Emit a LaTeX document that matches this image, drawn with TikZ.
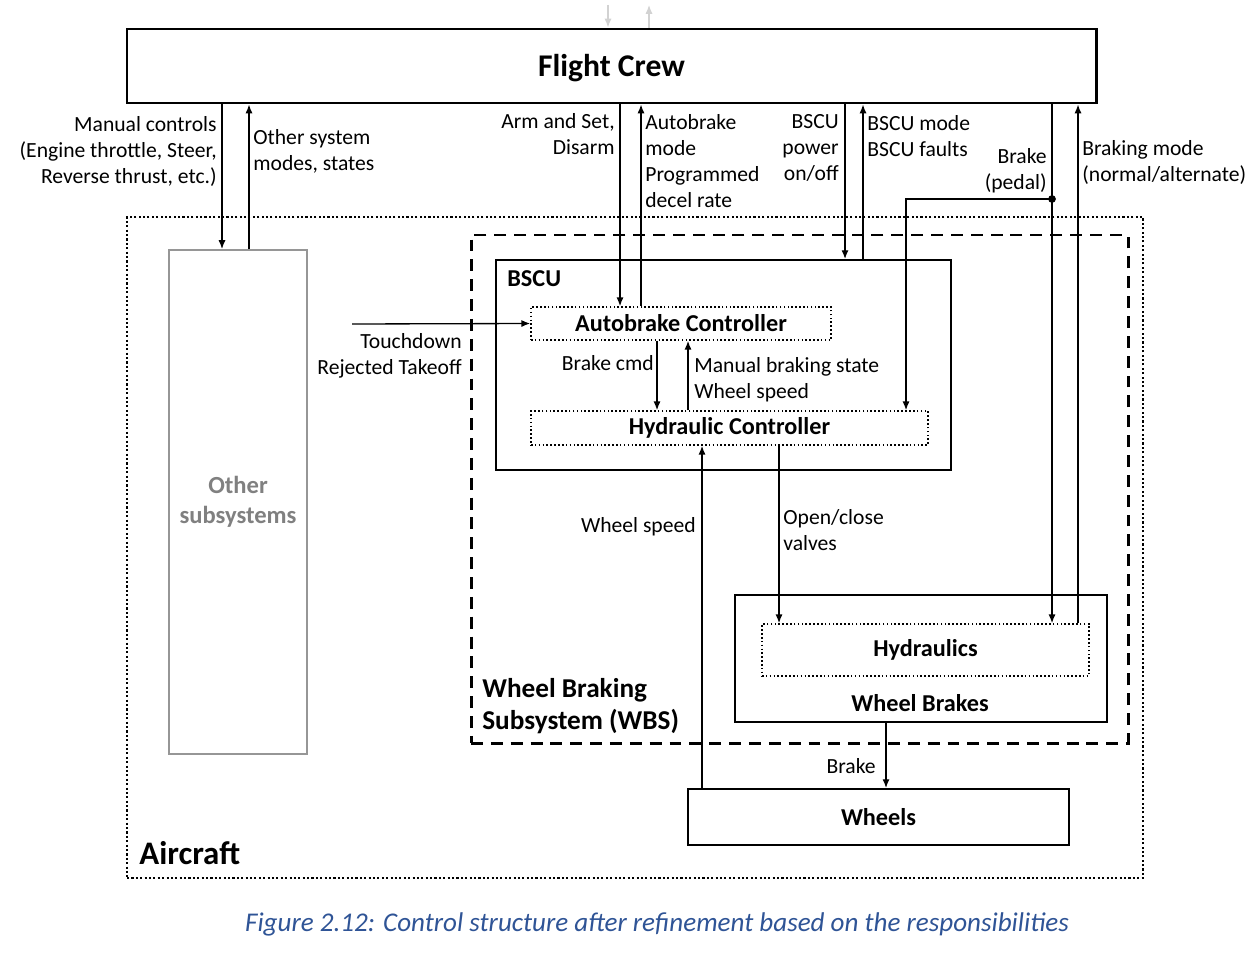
\documentclass[tikz,border=0pt]{standalone}
\usepackage{fontspec}
\setmainfont{Carlito}
\usepackage{xcolor}
\usetikzlibrary{arrows.meta,positioning,calc}
\definecolor{capblue}{RGB}{47,84,150}
\definecolor{boxgray}{RGB}{150,150,150}
\definecolor{txtgray}{RGB}{128,128,128}
\tikzset{
  box/.style={draw, line width=1.1pt, inner sep=0pt},
  dotbox/.style={draw, line width=0.9pt, dash pattern=on 0.9pt off 1.3pt, inner sep=0pt, font=\fontsize{13.8}{16}\selectfont\bfseries},
  arr/.style={line width=0.75pt, -{Latex[length=5pt,width=4pt]}},
  lbl/.style={inner sep=0pt, font=\fontsize{12.3}{14.8}\selectfont},
}
\begin{document}
\begin{tikzpicture}[x=0.02cm, y=-0.02cm]
  \useasboundingbox (0,0) rectangle (1256,956);
  % containers
  \node[draw, line width=1.4pt, dash pattern=on 1.2pt off 1.3pt, minimum width=1016*0.02cm, minimum height=661*0.02cm] (air) at (635,547.5) {};
  \node[draw, line width=1.7pt, dash pattern=on 6.8pt off 4.5pt, minimum width=657*0.02cm, minimum height=508*0.02cm] (wbs) at (799.5,489) {};
  \node[box, line width=1.7pt, minimum width=969*0.02cm, minimum height=74*0.02cm, text depth=1pt, font=\fontsize{18}{20}\selectfont\bfseries] (fc) at (611.5,66) {Flight Crew};
  \node[draw=boxgray, line width=1.1pt, minimum width=138*0.02cm, minimum height=504*0.02cm, align=center, text=txtgray, font=\fontsize{14}{17}\selectfont\bfseries] (oth) at (238,502) {Other\\subsystems};
  \node[box, minimum width=455*0.02cm, minimum height=210*0.02cm] (bscu) at (723.5,365) {};
  \node[dotbox, minimum width=300*0.02cm, minimum height=33*0.02cm] (abc) at (681,323.5) {Autobrake Controller};
  \node[dotbox, minimum width=397*0.02cm, minimum height=34*0.02cm] (hc) at (729.5,428) {Hydraulic Controller};
  \node[box, minimum width=372*0.02cm, minimum height=127*0.02cm] (wb) at (921,658.5) {};
  \node[dotbox, minimum width=327*0.02cm, minimum height=52*0.02cm] (hyd) at (925.5,650) {Hydraulics};
  \node[box, minimum width=381*0.02cm, minimum height=56*0.02cm, font=\fontsize{13.8}{16}\selectfont\bfseries] (whl) at (878.5,817) {Wheels};

  % titles
  \node[anchor=west, inner sep=0pt, font=\fontsize{13.8}{15}\selectfont\bfseries] (bscut) at (507,279) {BSCU};
  \node[inner sep=0pt, font=\fontsize{13.8}{16}\selectfont\bfseries] (wbt) at (920,703) {Wheel Brakes};
  \node[anchor=north west, inner sep=0pt, align=left, font=\fontsize{15.5}{18.2}\selectfont\bfseries] (wbst) at (482,678) {Wheel Braking\\Subsystem (WBS)};
  \node[anchor=west, inner sep=0pt, font=\fontsize{18.7}{21}\selectfont\bfseries] (airt) at (139,853) {Aircraft};
  \node[inner sep=0pt, text=capblue, font=\fontsize{15.4}{17}\selectfont\itshape] (cap) at (657,924) {Figure 2.12: Control structure after refinement based on the responsibilities};

  % faint arrows above the crew
  \coordinate (fa) at (608,5);
  \coordinate (fb) at (649,5);
  \draw[gray!35, line width=0.7pt, -{Latex[length=5pt,width=4pt]}] (fa) -- (fc.north -| fa);
  \draw[gray!35, line width=0.7pt, -{Latex[length=5pt,width=4pt]}] (fc.north -| fb) -- (fb);

  % crew <-> aircraft
  \draw[arr] (fc.south -| 222,0) -- (oth.north -| 222,0);
  \draw[arr] (oth.north -| 249,0) -- (fc.south -| 249,0);
  \draw[arr] (fc.south -| 620,0) -- (abc.north -| 620,0);
  \draw[arr] (abc.north -| 641,0) -- (fc.south -| 641,0);
  \draw[arr] (fc.south -| 845,0) -- (bscu.north -| 845,0);
  \draw[arr] (bscu.north -| 863,0) -- (fc.south -| 863,0);
  \draw[arr] (fc.south -| 1052,0) -- (hyd.north -| 1052,0);
  \draw[arr] (hyd.north -| 1078,0) -- (fc.south -| 1078,0);
  \coordinate (pedal) at (1052,199);
  \fill (pedal) circle (2.2pt);
  \draw[arr] (pedal) -| (hc.north -| 906,0);

  % inside
  \coordinate (td) at (352,324);
  \draw[arr] (td) -- (abc.west);
  \draw[arr] (abc.south -| 657,0) -- (hc.north -| 657,0);
  \draw[arr] (hc.north -| 688,0) -- (abc.south -| 688,0);
  \draw[arr] (whl.north -| 702,0) -- (hc.south -| 702,0);
  \draw[arr] (hc.south -| 779,0) -- (hyd.north -| 779,0);
  \draw[arr] (wb.south -| 886,0) -- (whl.north -| 886,0);

  % labels
  \node[lbl, anchor=north east, align=right] (l1) at (217,116) {Manual controls\\(Engine throttle, Steer,\\Reverse thrust, etc.)};
  \node[lbl, anchor=north west, align=left] (l2) at (253,129) {Other system\\modes, states};
  \node[lbl, anchor=north east, align=right] (l3) at (615,113) {Arm and Set,\\Disarm};
  \node[lbl, anchor=north west, align=left] (l4) at (645,114) {Autobrake\\mode\\Programmed\\decel rate};
  \node[lbl, anchor=north east, align=right] (l5) at (839,114) {BSCU\\power\\on/off};
  \node[lbl, anchor=north west, align=left] (l6) at (867,115) {BSCU mode\\BSCU faults};
  \node[lbl, anchor=north east, align=right] (l7) at (1047,148) {Brake\\(pedal)};
  \node[lbl, anchor=north west, align=left] (l8) at (1082,140) {Braking mode\\(normal/alternate)};
  \node[lbl, anchor=north east, align=right] (l9) at (462,333) {Touchdown\\Rejected Takeoff};
  \node[lbl, anchor=north east] (l10) at (654,355) {Brake cmd};
  \node[lbl, anchor=north west, align=left] (l11) at (694,357) {Manual braking state\\Wheel speed};
  \node[lbl, anchor=north east] (l12) at (696,517) {Wheel speed};
  \node[lbl, anchor=north west, align=left] (l13) at (783,509) {Open/close\\valves};
  \node[lbl, anchor=north east] (l14) at (876,758) {Brake};
\end{tikzpicture}
\end{document}
